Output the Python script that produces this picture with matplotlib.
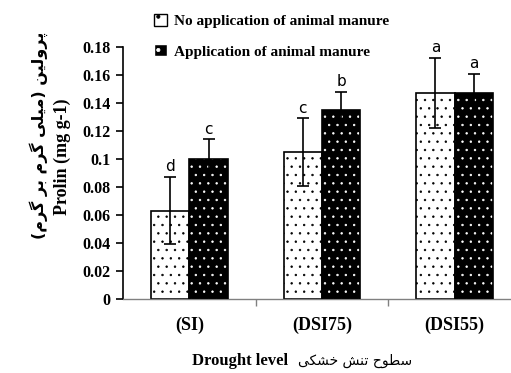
import numpy as np
import matplotlib.pyplot as plt
from matplotlib.patches import Patch

# data
categories = ['(SI)', '(DSI75)', '(DSI55)']
no_manure = [0.063, 0.105, 0.147]
no_manure_err = [0.024, 0.024, 0.025]
manure = [0.100, 0.135, 0.147]
manure_err = [0.014, 0.013, 0.014]
letters_no = ['d', 'c', 'a']
letters_yes = ['c', 'b', 'a']
yticks = [0, 0.02, 0.04, 0.06, 0.08, 0.1, 0.12, 0.14, 0.16, 0.18]
ytick_labels = ['0', '0.02', '0.04', '0.06', '0.08', '0.1', '0.12', '0.14', '0.16', '0.18']
legend_labels = ['No application of animal manure', 'Application of animal manure']

# matplotlib does no arabic shaping, so do it by hand with presentation forms
# forms: (isolated, final, initial, medial); None -> letter does not join forward
FORMS = {
    '\u0628': (0xFE8F, 0xFE90, 0xFE91, 0xFE92),  # ب
    '\u062A': (0xFE95, 0xFE96, 0xFE97, 0xFE98),  # ت
    '\u062D': (0xFEA1, 0xFEA2, 0xFEA3, 0xFEA4),  # ح
    '\u062E': (0xFEA5, 0xFEA6, 0xFEA7, 0xFEA8),  # خ
    '\u0631': (0xFEAD, 0xFEAE, None, None),      # ر
    '\u0633': (0xFEB1, 0xFEB2, 0xFEB3, 0xFEB4),  # س
    '\u0634': (0xFEB5, 0xFEB6, 0xFEB7, 0xFEB8),  # ش
    '\u0637': (0xFEC1, 0xFEC2, 0xFEC3, 0xFEC4),  # ط
    '\u0644': (0xFEDD, 0xFEDE, 0xFEDF, 0xFEE0),  # ل
    '\u0645': (0xFEE1, 0xFEE2, 0xFEE3, 0xFEE4),  # م
    '\u0646': (0xFEE5, 0xFEE6, 0xFEE7, 0xFEE8),  # ن
    '\u0648': (0xFEED, 0xFEEE, None, None),      # و
    '\u067E': (0xFB56, 0xFB57, 0xFB58, 0xFB59),  # پ
    '\u06A9': (0xFB8E, 0xFB8F, 0xFB90, 0xFB91),  # ک
    '\u06AF': (0xFB92, 0xFB93, 0xFB94, 0xFB95),  # گ
    '\u06CC': (0xFBFC, 0xFBFD, 0xFBFE, 0xFBFF),  # ی
}
MIRROR = {'(': ')', ')': '('}


def shape_fa(s):
    out = []
    for i, ch in enumerate(s):
        f = FORMS.get(ch)
        if f is None:
            out.append(MIRROR.get(ch, ch))
            continue
        prev = s[i - 1] if i > 0 else ''
        nxt = s[i + 1] if i + 1 < len(s) else ''
        jp = prev in FORMS and FORMS[prev][2] is not None
        jn = f[2] is not None and nxt in FORMS
        if jp and jn:
            code = f[3]
        elif jp:
            code = f[1]
        elif jn:
            code = f[2]
        else:
            code = f[0]
        out.append(chr(code))
    return ''.join(reversed(out))


ylabel_fa = 'پرولین (میلی گرم بر گرم)'
ylabel_en = 'Prolin (mg g-1)'
xlabel_fa = 'سطوح تنش خشکی'
xlabel_en = 'Drought level'

serif = 'Liberation Serif'
plt.rcParams['hatch.linewidth'] = 0.5

fig = plt.figure(figsize=(5.11, 3.73), dpi=100)
ax = fig.add_axes([0.2407, 0.1984, 0.7789, 0.6756])

x = np.arange(len(categories))
w = 0.29

# white bars with black dots
ax.bar(x - w / 2, no_manure, w, color='white', edgecolor='black', hatch='..', linewidth=1.2, zorder=2)
# black bars with white dots, outline drawn on top
ax.bar(x + w / 2, manure, w, color='black', edgecolor='white', hatch='..', linewidth=0, zorder=2)
ax.bar(x + w / 2, manure, w, fill=False, edgecolor='black', linewidth=1.2, zorder=3)

ax.errorbar(x - w / 2, no_manure, yerr=no_manure_err, fmt='none', ecolor='black', elinewidth=1.2, capsize=4, capthick=1.2, zorder=4)
ax.errorbar(x + w / 2, manure, yerr=manure_err, fmt='none', ecolor='black', elinewidth=1.2, capsize=4, capthick=1.2, zorder=4)

for i in range(len(categories)):
    ax.text(x[i] - w / 2, no_manure[i] + no_manure_err[i] + 0.002, letters_no[i], ha='center', va='bottom', fontsize=11, family='DejaVu Sans')
    ax.text(x[i] + w / 2, manure[i] + manure_err[i] + 0.002, letters_yes[i], ha='center', va='bottom', fontsize=11, family='DejaVu Sans')

ax.set_xlim(-0.5, 2.5)
ax.set_ylim(0, 0.18)
ax.set_yticks(yticks)
ax.set_yticklabels(ytick_labels, family=serif, fontweight='bold', fontsize=11.5)
ax.set_xticks([0.5, 1.5, 2.5])
ax.set_xticklabels([])
ax.tick_params(axis='x', length=5, color='gray', width=1)
ax.tick_params(axis='y', length=5, width=1.2, pad=4)
for i, c in enumerate(categories):
    ax.text(x[i], -0.0185, c, ha='center', va='center', family=serif, fontweight='bold', fontsize=13)

ax.spines['top'].set_visible(False)
ax.spines['right'].set_visible(False)
ax.spines['left'].set_linewidth(1.2)
ax.spines['bottom'].set_color('gray')
ax.spines['bottom'].set_linewidth(1)

fig.text(0.075, 0.638, shape_fa(ylabel_fa), rotation=90, ha='center', va='center', family='DejaVu Sans', fontweight='bold', fontsize=11.5)
fig.text(0.122, 0.58, ylabel_en, rotation=90, ha='center', va='center', family=serif, fontweight='bold', fontsize=13)
fig.text(0.5636, 0.032, xlabel_en, ha='right', va='center', family=serif, fontweight='bold', fontsize=12)
fig.text(0.583, 0.032, shape_fa(xlabel_fa), ha='left', va='center', family='DejaVu Sans', fontsize=10)

handles = [Patch(facecolor='white', edgecolor='black', hatch='.'),
           Patch(facecolor='black', edgecolor='white', hatch='.')]
fig.legend(handles, legend_labels, loc='upper left', bbox_to_anchor=(0.275, 1.0), frameon=False,
           prop={'family': serif, 'weight': 'bold', 'size': 11}, handlelength=0.85, handleheight=0.85,
           handletextpad=0.45, labelspacing=1.05)

fig.savefig('out.png', dpi=100)
